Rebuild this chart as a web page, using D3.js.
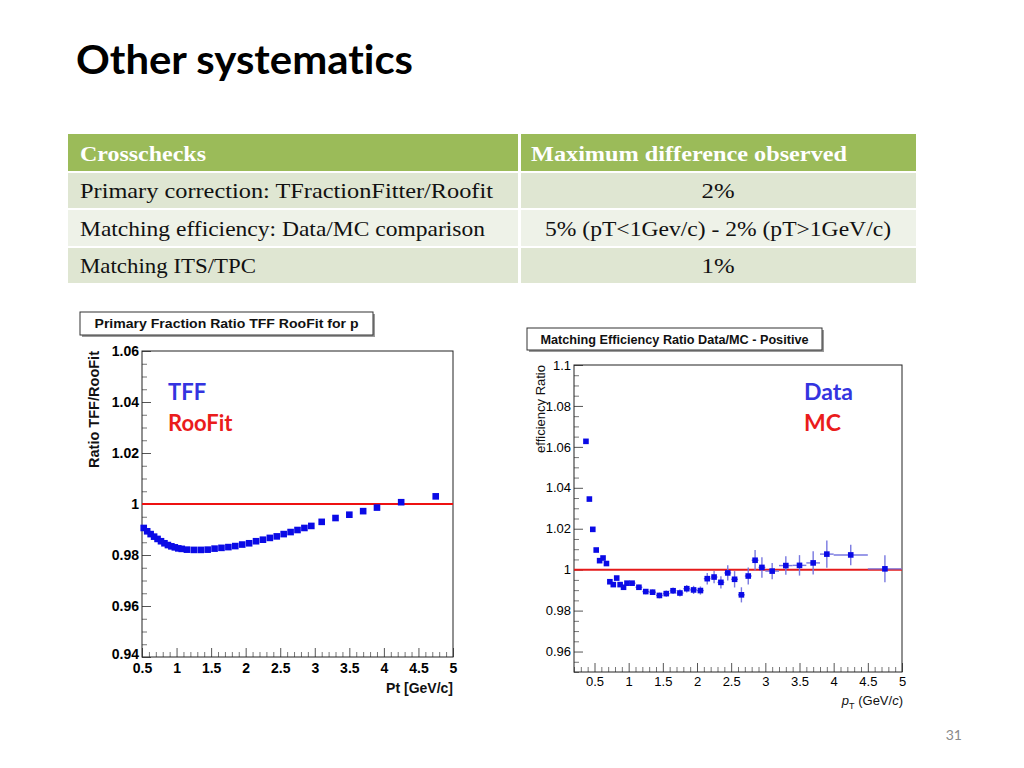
<!DOCTYPE html>
<html>
<head>
<meta charset="utf-8">
<script src="https://cdn.jsdelivr.net/npm/d3@7"></script>
<style>
  html, body { margin: 0; padding: 0; background: #fff; }
  svg { display: block; }
  text { font-variant-ligatures: none; font-feature-settings: "liga" 0; }
</style>
</head>
<body>
<svg id="slide" width="1024" height="768"></svg>
<script>
// ---------------- DATA ----------------
const slideTitle = "Other systematics";
const pageNumber = "31";

const tableHeader = ["Crosschecks", "Maximum difference observed"];
const tableChecks = [
  "Primary correction: TFractionFitter/Roofit",
  "Matching efficiency: Data/MC comparison",
  "Matching ITS/TPC"
];
const tableDiffs = ["2%", "5% (pT<1Gev/c) - 2% (pT>1GeV/c)", "1%"];

// Left chart: Primary Fraction Ratio TFF / RooFit
const leftTitle = "Primary Fraction Ratio TFF RooFit for p";
const leftYLabel = "Ratio TFF/RooFit";
const leftXLabel = "Pt [GeV/c]";
const leftLegend = ["TFF", "RooFit"];
const leftXTicks = [0.5, 1, 1.5, 2, 2.5, 3, 3.5, 4, 4.5, 5];
const leftYTicks = [0.94, 0.96, 0.98, 1, 1.02, 1.04, 1.06];
const leftPt = [0.525, 0.575, 0.625, 0.675, 0.725, 0.775, 0.825, 0.875, 0.925, 0.975, 1.025, 1.075,
  1.15, 1.25, 1.35, 1.45, 1.55, 1.65, 1.75, 1.85, 1.95, 2.05, 2.15, 2.25, 2.35, 2.45, 2.55, 2.65, 2.75, 2.85, 2.95,
  3.1, 3.3, 3.5, 3.7, 3.9, 4.25, 4.75];
const leftRatio = [0.9906, 0.9893, 0.9882, 0.9872, 0.9863, 0.9854, 0.9846, 0.9839, 0.9834, 0.9830, 0.9826, 0.9824,
  0.9821, 0.9820, 0.9820, 0.9821, 0.9825, 0.9828, 0.9831, 0.9835, 0.9841, 0.9846, 0.9854, 0.9860, 0.9867, 0.9873, 0.9882, 0.9890, 0.9898, 0.9906, 0.9914,
  0.9930, 0.9945, 0.9958, 0.9972, 0.9986, 1.0007, 1.0030];
const leftReference = 1;

// Right chart: Matching efficiency ratio Data/MC
const rightTitle = "Matching Efficiency Ratio Data/MC - Positive";
const rightYLabel = "efficiency Ratio";
const rightLegend = ["Data", "MC"];
const rightXTicks = [0.5, 1, 1.5, 2, 2.5, 3, 3.5, 4, 4.5, 5];
const rightYTicks = [0.96, 0.98, 1, 1.02, 1.04, 1.06, 1.08, 1.1];
const rightPt = [0.375, 0.425, 0.475, 0.525, 0.575, 0.625, 0.675, 0.725, 0.775, 0.825, 0.875, 0.925, 0.975,
  1.05, 1.15, 1.25, 1.35, 1.45, 1.55, 1.65, 1.75, 1.85, 1.95, 2.05, 2.15, 2.25, 2.35, 2.45, 2.55, 2.65, 2.75, 2.85, 2.95,
  3.1, 3.3, 3.5, 3.7, 3.9, 4.25, 4.75];
const rightPtErr = [0.025, 0.025, 0.025, 0.025, 0.025, 0.025, 0.025, 0.025, 0.025, 0.025, 0.025, 0.025, 0.025,
  0.05, 0.05, 0.05, 0.05, 0.05, 0.05, 0.05, 0.05, 0.05, 0.05, 0.05, 0.05, 0.05, 0.05, 0.05, 0.05, 0.05, 0.05, 0.05, 0.05,
  0.1, 0.1, 0.1, 0.1, 0.1, 0.25, 0.25];
const rightRatio = [1.0627, 1.0345, 1.0197, 1.0096, 1.0044, 1.0057, 1.0030, 0.9941, 0.9927, 0.9959, 0.9927, 0.9914, 0.9934,
  0.9934, 0.9914, 0.9893, 0.9890, 0.9874, 0.9883, 0.9897, 0.9886, 0.9907, 0.9901, 0.9898, 0.9956, 0.9964, 0.9938, 0.9984, 0.9953, 0.9877, 0.9969, 1.0046, 1.0011,
  0.9993, 1.0020, 1.0021, 1.0033, 1.0076, 1.0072, 1.0004];
const rightRatioErr = [0.0008, 0.0008, 0.0008, 0.0008, 0.0008, 0.0008, 0.0008, 0.0008, 0.0008, 0.0009, 0.0009, 0.0009, 0.001,
  0.001, 0.0012, 0.0013, 0.0013, 0.0014, 0.0015, 0.0016, 0.0017, 0.0018, 0.002, 0.002, 0.0028, 0.003, 0.003, 0.0037, 0.004, 0.0037, 0.0042, 0.005, 0.005,
  0.004, 0.0045, 0.005, 0.0057, 0.0067, 0.005, 0.0066];
const rightReference = 1;

// ---------------- DRAWING ----------------
const svg = d3.select("#slide");
const sans = "'Liberation Sans', Arial, Helvetica, sans-serif";
const serif = "'Liberation Serif', 'Times New Roman', serif";
const calibri = "Lato, 'Open Sans', sans-serif";

function fitText(sel, w) {
  sel.attr("textLength", w).attr("lengthAdjust", "spacingAndGlyphs");
}

// Slide title
svg.append("text").attr("x", 76).attr("y", 74)
  .attr("font-family", calibri).attr("font-weight", 700).attr("font-size", 40)
  .attr("fill", "#000").text(slideTitle).call(fitText, 337);

// Table
const tX0 = 68, tX1 = 916, tSplit = 519;
const rowTops = [134, 173, 210, 248], rowBots = [171, 208, 246, 283];
const rowFills = ["#9bbb59", "#dfe6d2", "#eef2e8", "#dfe6d2"];
const g = svg.append("g");
rowTops.forEach((t, i) => {
  g.append("rect").attr("x", tX0).attr("y", t).attr("width", tSplit - tX0 - 1).attr("height", rowBots[i] - t).attr("fill", rowFills[i]);
  g.append("rect").attr("x", tSplit + 2).attr("y", t).attr("width", tX1 - tSplit - 2).attr("height", rowBots[i] - t).attr("fill", rowFills[i]);
});
const headerW = [126, 316];
g.append("text").attr("x", 80).attr("y", 161).attr("font-family", serif).attr("font-weight", 700)
  .attr("font-size", 21).attr("fill", "#fff").text(tableHeader[0]).call(fitText, headerW[0]);
g.append("text").attr("x", 531).attr("y", 161).attr("font-family", serif).attr("font-weight", 700)
  .attr("font-size", 21).attr("fill", "#fff").text(tableHeader[1]).call(fitText, headerW[1]);
const checkW = [413, 405, 176];
const diffW = [33, 346, 33];
const baselines = [198, 236, 273];
tableChecks.forEach((s, i) => {
  g.append("text").attr("x", 80).attr("y", baselines[i]).attr("font-family", serif)
    .attr("font-size", 21).attr("fill", "#111").text(s).call(fitText, checkW[i]);
  g.append("text").attr("x", 718 - diffW[i] / 2).attr("y", baselines[i]).attr("font-family", serif)
    .attr("font-size", 21).attr("fill", "#111").text(tableDiffs[i]).call(fitText, diffW[i]);
});

// Page number
svg.append("text").attr("x", 962).attr("y", 740).attr("text-anchor", "end")
  .attr("font-family", calibri).attr("font-size", 14).attr("fill", "#8a8a8a").text(pageNumber);

function titleBox(x, y, w, h, txt, tw) {
  svg.append("rect").attr("x", x + 2).attr("y", y + 2).attr("width", w).attr("height", h).attr("fill", "#9a9a9a");
  svg.append("rect").attr("x", x).attr("y", y).attr("width", w).attr("height", h)
    .attr("fill", "#fff").attr("stroke", "#333").attr("stroke-width", 1);
  svg.append("text").attr("x", x + w / 2 - tw / 2).attr("y", y + h / 2 + 4.5)
    .attr("font-family", sans).attr("font-weight", 700).attr("font-size", 12.5).attr("fill", "#111")
    .text(txt).call(fitText, tw);
}

function drawTicks(gAxis, axisFn, scale, majors, minors, majorLen, minorLen, fmt, font, weight, size, pad) {
  gAxis.append("g").call(axisFn(scale).tickValues(minors).tickSize(-minorLen).tickFormat(""))
    .call(s => s.select(".domain").remove())
    .call(s => s.selectAll(".tick line").attr("stroke", "#777"));
  gAxis.append("g").call(axisFn(scale).tickValues(majors).tickSize(-majorLen).tickPadding(pad).tickFormat(fmt))
    .call(s => s.select(".domain").remove())
    .call(s => s.selectAll(".tick line").attr("stroke", "#555"))
    .call(s => s.selectAll(".tick text").attr("font-family", font).attr("font-weight", weight)
      .attr("font-size", size).attr("fill", "#000"));
}

// -------- Left chart --------
{
  const x = d3.scaleLinear().domain([0.5, 5]).range([142, 453]);
  const y = d3.scaleLinear().domain([0.94, 1.06]).range([657, 351]);
  titleBox(80, 312, 293, 23, leftTitle, 264);

  const minorsX = d3.range(5, 51).map(v => v / 10).filter(v => !leftXTicks.includes(v));
  const minorsY = d3.range(188, 213).map(v => v / 200).filter(v => !leftYTicks.some(t => Math.abs(t - v) < 1e-9));
  const gx = svg.append("g").attr("transform", `translate(0,${y.range()[0]})`);
  drawTicks(gx, d3.axisBottom, x, leftXTicks, minorsX, 9, 5, d => String(d), sans, 700, 14, 6);
  const gy = svg.append("g").attr("transform", `translate(${x.range()[0]},0)`);
  drawTicks(gy, d3.axisLeft, y, leftYTicks, minorsY, 9, 5, d => String(+d.toFixed(2)), sans, 700, 14, 3);
  // lowest label sits just above the x labels, as in the reference
  gy.selectAll(".tick").filter(d => d === 0.94).select("text").attr("dy", "0.12em");

  svg.append("rect").attr("x", x.range()[0]).attr("y", y.range()[1])
    .attr("width", x.range()[1] - x.range()[0]).attr("height", y.range()[0] - y.range()[1])
    .attr("fill", "none").attr("stroke", "#222").attr("stroke-width", 1);

  svg.append("line").attr("x1", x(0.5)).attr("x2", x(5)).attr("y1", y(leftReference)).attr("y2", y(leftReference))
    .attr("stroke", "#ee1111").attr("stroke-width", 2);

  svg.append("g").selectAll("rect").data(leftPt).join("rect")
    .attr("x", (d) => x(d) - 3.3).attr("y", (d, i) => y(leftRatio[i]) - 3.3)
    .attr("width", 6.6).attr("height", 6.6).attr("fill", "#0a0ae6");

  svg.append("text").attr("transform", `translate(99,${y.range()[1]}) rotate(-90)`)
    .attr("text-anchor", "end").attr("font-family", sans).attr("font-weight", 700).attr("font-size", 14.5)
    .attr("fill", "#111").text(leftYLabel).call(fitText, 117);
  svg.append("text").attr("x", 453).attr("y", 693).attr("text-anchor", "end")
    .attr("font-family", sans).attr("font-weight", 700).attr("font-size", 14).attr("fill", "#111").text(leftXLabel);

  svg.append("text").attr("x", 168).attr("y", 400).attr("font-family", calibri).attr("font-weight", 700)
    .attr("font-size", 22).attr("fill", "#3434e0").text(leftLegend[0]);
  svg.append("text").attr("x", 168).attr("y", 431).attr("font-family", calibri).attr("font-weight", 700)
    .attr("font-size", 22).attr("fill", "#ea1c1c").text(leftLegend[1]);
}

// -------- Right chart --------
{
  const x = d3.scaleLinear().domain([0.2, 5]).range([574, 902]);
  const y = d3.scaleLinear().domain([0.95, 1.1]).range([672, 365]);
  titleBox(527, 328, 295, 22, rightTitle, 268);

  const minorsX = d3.range(2, 51).map(v => v / 10).filter(v => !rightXTicks.some(t => Math.abs(t - v) < 1e-9));
  const minorsY = d3.range(190, 221).map(v => v / 200).filter(v => !rightYTicks.some(t => Math.abs(t - v) < 1e-9));
  const gx = svg.append("g").attr("transform", `translate(0,${y.range()[0]})`);
  drawTicks(gx, d3.axisBottom, x, rightXTicks, minorsX, 9, 5, d => String(d), sans, 400, 13, 5);
  const gy = svg.append("g").attr("transform", `translate(${x.range()[0]},0)`);
  drawTicks(gy, d3.axisLeft, y, rightYTicks, minorsY, 9, 5, d => String(+d.toFixed(2)), sans, 400, 13, 3);

  svg.append("rect").attr("x", x.range()[0]).attr("y", y.range()[1])
    .attr("width", x.range()[1] - x.range()[0]).attr("height", y.range()[0] - y.range()[1])
    .attr("fill", "none").attr("stroke", "#222").attr("stroke-width", 1);

  svg.append("line").attr("x1", x(0.2)).attr("x2", x(5)).attr("y1", y(rightReference)).attr("y2", y(rightReference))
    .attr("stroke", "#e51a1a").attr("stroke-width", 2);

  const eg = svg.append("g").attr("stroke", "#7878e0").attr("stroke-width", 1.4);
  rightPt.forEach((p, i) => {
    eg.append("line").attr("x1", x(p)).attr("x2", x(p))
      .attr("y1", y(rightRatio[i] - rightRatioErr[i])).attr("y2", y(rightRatio[i] + rightRatioErr[i]));
    eg.append("line").attr("x1", x(p - rightPtErr[i])).attr("x2", x(p + rightPtErr[i]))
      .attr("y1", y(rightRatio[i])).attr("y2", y(rightRatio[i]));
  });
  svg.append("g").selectAll("rect").data(rightPt).join("rect")
    .attr("x", (d) => x(d) - 2.8).attr("y", (d, i) => y(rightRatio[i]) - 2.8)
    .attr("width", 5.6).attr("height", 5.6).attr("fill", "#0a0ae6");

  svg.append("text").attr("transform", `translate(545,${y.range()[1]}) rotate(-90)`)
    .attr("text-anchor", "end").attr("font-family", sans).attr("font-size", 13)
    .attr("fill", "#111").text(rightYLabel);

  const xl = svg.append("text").attr("x", 903).attr("y", 705).attr("text-anchor", "end")
    .attr("font-family", sans).attr("font-size", 13).attr("fill", "#111");
  xl.append("tspan").attr("font-style", "italic").text("p");
  xl.append("tspan").attr("font-size", 9).attr("dy", 4).text("T");
  xl.append("tspan").attr("dy", -4).text(" (GeV/");
  xl.append("tspan").attr("font-style", "italic").text("c");
  xl.append("tspan").text(")");

  svg.append("text").attr("x", 804).attr("y", 400).attr("font-family", calibri).attr("font-weight", 700)
    .attr("font-size", 23).attr("fill", "#3434e0").text(rightLegend[0]);
  svg.append("text").attr("x", 804).attr("y", 431).attr("font-family", calibri).attr("font-weight", 700)
    .attr("font-size", 23).attr("fill", "#ea1c1c").text(rightLegend[1]);
}
</script>
</body>
</html>
